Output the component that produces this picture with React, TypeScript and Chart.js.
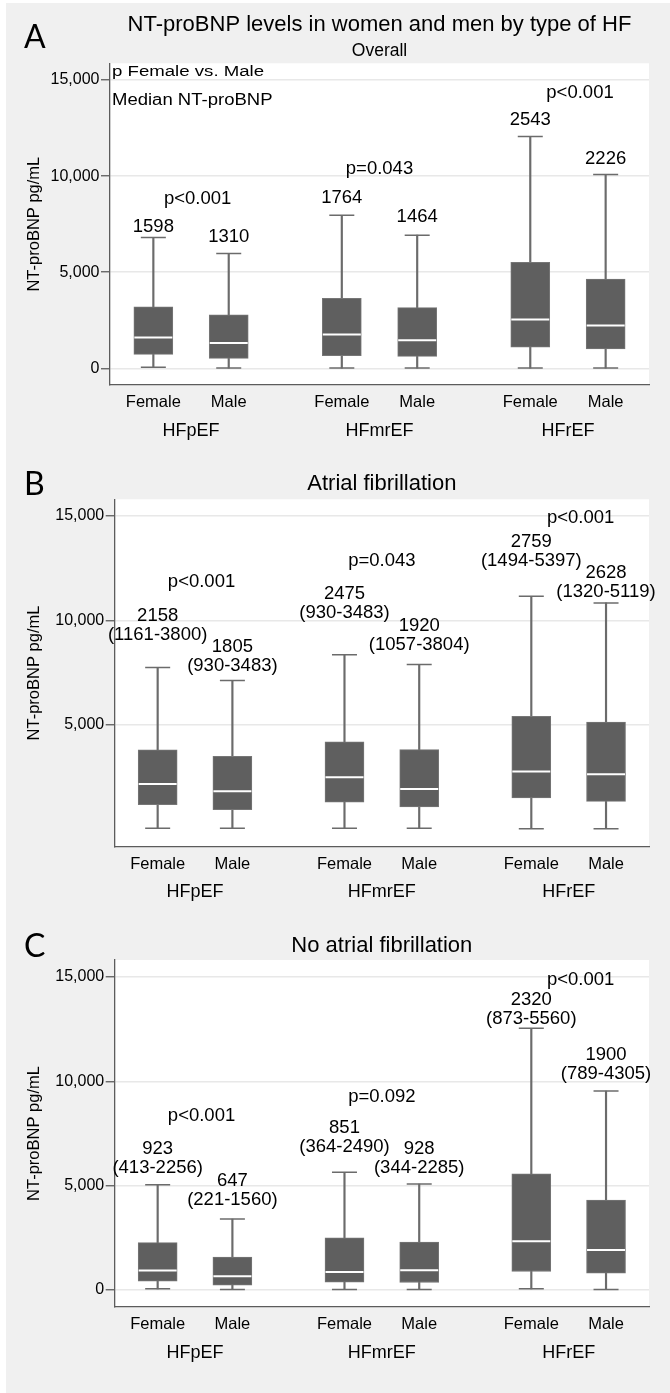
import { useEffect, useRef } from "react";
import { Chart, registerables } from "chart.js";

Chart.register(...registerables);

const FONT = '"Liberation Sans", Arial, Helvetica, sans-serif';

// ---------- categories ----------
const sexes = ["Female", "Male", "Female", "Male", "Female", "Male"];
const hfTypes = ["HFpEF", "HFmrEF", "HFrEF"];
const boxPositions = [0, 1, 2.5, 3.5, 5, 6];
const groupPositions = [0.5, 3, 5.5];

// ---------- Panel A: Overall ----------
const overallMedian = [1598, 1310, 1764, 1464, 2543, 2226];
const overallQ1 = [720, 518, 656, 622, 1105, 1002];
const overallQ3 = [3200, 2781, 3644, 3160, 5509, 4646];
const overallLow = [60, 10, 10, 10, 10, 10];
const overallHigh = [6810, 5975, 7963, 6926, 12055, 10085];
const overallP = ["p<0.001", "p=0.043", "p<0.001"];

// ---------- Panel B: Atrial fibrillation ----------
const afMedian = [2158, 1805, 2475, 1920, 2759, 2628];
const afQ1 = [1161, 930, 1284, 1057, 1494, 1320];
const afQ3 = [3800, 3483, 4183, 3804, 5397, 5119];
const afLow = [40, 40, 40, 40, 15, 15];
const afHigh = [7741, 7116, 8352, 7885, 11155, 10837];
const afIqrText = ["(1161-3800)", "(930-3483)", "(930-3483)", "(1057-3804)", "(1494-5397)", "(1320-5119)"];
const afP = ["p<0.001", "p=0.043", "p<0.001"];

// ---------- Panel C: No atrial fibrillation ----------
const noAfMedian = [923, 647, 851, 928, 2320, 1900];
const noAfQ1 = [413, 221, 364, 344, 873, 789];
const noAfQ3 = [2256, 1560, 2490, 2285, 5560, 4305];
const noAfLow = [40, 10, 10, 10, 40, 10];
const noAfHigh = [5038, 3392, 5633, 5071, 12541, 9534];
const noAfIqrText = ["(413-2256)", "(221-1560)", "(364-2490)", "(344-2285)", "(873-5560)", "(789-4305)"];
const noAfP = ["p<0.001", "p=0.092", "p<0.001"];

// ---------- tick labels ----------
const yTicksWithZero = [0, 5000, 10000, 15000];
const yTicksNoZero = [5000, 10000, 15000];

// ---------- annotation anchors (data units) ----------
const overallMedianLabelY = [7107, 6587, 8585, 7628, 12654, 10630];
const overallPLabelY = [8570, 10110, 14048];
const afMedianLabelY = [9972, 8500, 11026, 9507, 13534, 12018];
const afPLabelY = [11616, 12609, 14646];
const noAfMedianLabelY = [6511, 4975, 7504, 6511, 13660, 11021];
const noAfPLabelY = [8109, 9000, 14620];
const pLabelX = [0.587, 3.0, 5.66];

type PanelSpec = {
  letter: string;
  title: string;
  subtitle?: string;
  median: number[];
  q1: number[];
  q3: number[];
  low: number[];
  high: number[];
  iqrText?: string[];
  medianLabelY: number[];
  pText: string[];
  pY: number[];
  yTicks: number[];
  yMin: number;
  yMax: number;
  notes: boolean;
  canvasTop: number;
  canvasHeight: number;
  areaLeft: number;
  areaTop: number;
  areaRight: number;
  areaBottom: number;
  letterBaseline: number;
  titleBaseline: number;
  subtitleBaseline: number;
};

const panels: PanelSpec[] = [
  {
    letter: "A",
    title: "NT-proBNP levels in women and men by type of HF",
    subtitle: "Overall",
    median: overallMedian,
    q1: overallQ1,
    q3: overallQ3,
    low: overallLow,
    high: overallHigh,
    medianLabelY: overallMedianLabelY,
    pText: overallP,
    pY: overallPLabelY,
    yTicks: yTicksWithZero,
    yMin: -870,
    yMax: 15870,
    notes: true,
    canvasTop: 0,
    canvasHeight: 460,
    areaLeft: 110,
    areaTop: 63.3,
    areaRight: 656.7,
    areaBottom: 385,
    letterBaseline: 48,
    titleBaseline: 30.7,
    subtitleBaseline: 56,
  },
  {
    letter: "B",
    title: "Atrial fibrillation",
    median: afMedian,
    q1: afQ1,
    q3: afQ3,
    low: afLow,
    high: afHigh,
    iqrText: afIqrText,
    medianLabelY: afMedianLabelY,
    pText: afP,
    pY: afPLabelY,
    yTicks: yTicksNoZero,
    yMin: -850,
    yMax: 15805,
    notes: false,
    canvasTop: 460,
    canvasHeight: 462,
    areaLeft: 114.7,
    areaTop: 39.3,
    areaRight: 657,
    areaBottom: 386.7,
    letterBaseline: 34.7,
    titleBaseline: 30,
    subtitleBaseline: 0,
  },
  {
    letter: "C",
    title: "No atrial fibrillation",
    median: noAfMedian,
    q1: noAfQ1,
    q3: noAfQ3,
    low: noAfLow,
    high: noAfHigh,
    iqrText: noAfIqrText,
    medianLabelY: noAfMedianLabelY,
    pText: noAfP,
    pY: noAfPLabelY,
    yTicks: yTicksWithZero,
    yMin: -830,
    yMax: 15820,
    notes: false,
    canvasTop: 922,
    canvasHeight: 471,
    areaLeft: 114.7,
    areaTop: 38,
    areaRight: 657,
    areaBottom: 385,
    letterBaseline: 34.7,
    titleBaseline: 29.7,
    subtitleBaseline: 0,
  },
];

const X_MIN = -0.575;
const X_MAX = 6.575;
const X1_HEIGHT = 30;
const X2_HEIGHT = 40;
const AXIS_COLOR = "#5c5c5c";
const WHISKER_COLOR = "#6b6b6b";
const BOX_COLOR = "#5f5f5f";

function decorPlugin(p: PanelSpec) {
  return {
    id: "decor" + p.letter,
    beforeDraw(chart: any) {
      const { ctx, chartArea: a } = chart;
      ctx.save();
      ctx.fillStyle = "#ffffff";
      ctx.fillRect(a.left, a.top, a.right - a.left, a.bottom - a.top);
      ctx.restore();
    },
    afterDraw(chart: any) {
      const { ctx, chartArea: a, scales } = chart;
      const xs = scales.x;
      const ys = scales.y;
      ctx.save();
      ctx.fillStyle = "#000000";
      ctx.textBaseline = "alphabetic";

      ctx.textAlign = "left";
      ctx.font = `32px Lato, ${FONT}`;
      ctx.fillText(p.letter, 24, p.letterBaseline);

      const cx = (a.left + a.right) / 2;
      ctx.textAlign = "center";
      ctx.font = `22px ${FONT}`;
      ctx.fillText(p.title, cx, p.titleBaseline);
      if (p.subtitle) {
        ctx.font = `17.5px ${FONT}`;
        ctx.fillText(p.subtitle, cx, p.subtitleBaseline);
      }

      if (p.notes) {
        ctx.textAlign = "left";
        ctx.save();
        ctx.translate(a.left + 2, a.top + 12.2);
        ctx.scale(1.33, 1);
        ctx.font = `14px ${FONT}`;
        ctx.fillText("p Female vs. Male", 0, 0);
        ctx.restore();
        ctx.save();
        ctx.translate(a.left + 2, a.top + 42);
        ctx.scale(1.157, 1);
        ctx.font = `16px ${FONT}`;
        ctx.fillText("Median NT-proBNP", 0, 0);
        ctx.restore();
      }

      ctx.textAlign = "center";
      ctx.font = `18.5px ${FONT}`;
      p.median.forEach((m, i) => {
        const x = xs.getPixelForValue(boxPositions[i]);
        const y = ys.getPixelForValue(p.medianLabelY[i]);
        ctx.fillText(String(m), x, y);
        if (p.iqrText) ctx.fillText(p.iqrText[i], x, y + 19);
      });
      p.pText.forEach((t, i) => {
        ctx.fillText(t, xs.getPixelForValue(pLabelX[i]), ys.getPixelForValue(p.pY[i]));
      });
      ctx.restore();
    },
  };
}

function buildConfig(p: PanelSpec): any {
  const whiskers = boxPositions.map((x, i) => ({ x, y: [p.low[i], p.high[i]] }));
  const boxes = boxPositions.map((x, i) => ({ x, y: [p.q1[i], p.q3[i]] }));
  const caps = boxPositions.flatMap((x, i) => [
    { x, y: p.low[i] },
    { x, y: p.high[i] },
  ]);
  const medians = boxPositions.map((x, i) => ({ x, y: p.median[i] }));

  return {
    type: "bar",
    data: {
      datasets: [
        {
          type: "bar",
          data: whiskers,
          backgroundColor: WHISKER_COLOR,
          borderWidth: 0,
          barThickness: 1.5,
          grouped: false,
          order: 4,
        },
        {
          type: "bar",
          data: boxes,
          backgroundColor: BOX_COLOR,
          borderColor: "#767676",
          borderWidth: 1,
          borderSkipped: false,
          barThickness: 39,
          grouped: false,
          order: 3,
        },
        {
          type: "scatter",
          data: caps,
          pointStyle: "line",
          pointRadius: 12.5,
          pointHoverRadius: 12.5,
          pointBorderColor: WHISKER_COLOR,
          pointBorderWidth: 1.5,
          order: 2,
        },
        {
          type: "scatter",
          data: medians,
          pointStyle: "line",
          pointRadius: 19,
          pointHoverRadius: 19,
          pointBorderColor: "#ffffff",
          pointBorderWidth: 2,
          order: 1,
        },
      ],
    },
    options: {
      responsive: false,
      animation: false,
      events: [],
      layout: {
        padding: {
          top: p.areaTop,
          left: 0,
          right: 670 - p.areaRight,
          bottom: p.canvasHeight - p.areaBottom - X1_HEIGHT - X2_HEIGHT,
        },
      },
      plugins: {
        legend: { display: false },
        tooltip: { enabled: false },
        title: { display: false },
      },
      scales: {
        x: {
          type: "linear",
          position: "bottom",
          weight: 1,
          offset: false,
          min: X_MIN,
          max: X_MAX,
          grid: { display: false, drawTicks: false, offset: false },
          border: { display: true, color: AXIS_COLOR, width: 1.3 },
          ticks: {
            autoSkip: false,
            maxRotation: 0,
            padding: 8,
            color: "#000",
            font: { family: FONT, size: 16.5 },
            callback: (_v: any, i: number) => sexes[i],
          },
          afterBuildTicks: (s: any) => {
            s.ticks = boxPositions.map((value) => ({ value }));
          },
          afterFit: (s: any) => {
            s.height = X1_HEIGHT;
          },
        },
        x2: {
          type: "linear",
          position: "bottom",
          weight: 2,
          offset: false,
          min: X_MIN,
          max: X_MAX,
          grid: { display: false, drawTicks: false, offset: false },
          border: { display: false },
          ticks: {
            autoSkip: false,
            maxRotation: 0,
            padding: 5,
            color: "#000",
            font: { family: FONT, size: 18 },
            callback: (_v: any, i: number) => hfTypes[i],
          },
          afterBuildTicks: (s: any) => {
            s.ticks = groupPositions.map((value) => ({ value }));
          },
          afterFit: (s: any) => {
            s.height = X2_HEIGHT;
          },
        },
        y: {
          type: "linear",
          position: "left",
          min: p.yMin,
          max: p.yMax,
          grid: {
            color: "#e8e8e8",
            lineWidth: 1.5,
            tickColor: AXIS_COLOR,
            tickLength: 9,
            tickWidth: 1.3,
          },
          border: { display: true, color: AXIS_COLOR, width: 1.3 },
          ticks: {
            padding: 1.5,
            color: "#000",
            font: { family: FONT, size: 16 },
            callback: (v: any) => Number(v).toLocaleString("en-US"),
          },
          title: {
            display: true,
            text: "NT-proBNP pg/mL",
            color: "#000",
            font: { family: FONT, size: 16.5 },
            padding: { top: 24.1, bottom: 0 },
          },
          afterBuildTicks: (s: any) => {
            s.ticks = p.yTicks.map((value) => ({ value }));
          },
          afterFit: (s: any) => {
            s.width = p.areaLeft;
          },
        },
      },
    },
    plugins: [decorPlugin(p)],
  };
}

export default function App() {
  const canvasRefs = useRef<(HTMLCanvasElement | null)[]>([]);

  useEffect(() => {
    const charts: Chart[] = [];
    panels.forEach((p, i) => {
      const c = canvasRefs.current[i];
      if (c) charts.push(new Chart(c, buildConfig(p)));
    });
    return () => {
      charts.forEach((ch) => ch.destroy());
    };
  }, []);

  return (
    <div
      style={{
        position: "absolute",
        left: 0,
        top: 0,
        width: 670,
        height: 1393,
        background: "#ffffff",
        overflow: "hidden",
      }}
    >
      <div
        style={{
          position: "absolute",
          left: 6,
          top: 3,
          right: 0,
          bottom: 0,
          background: "#f0f0f0",
        }}
      />
      {panels.map((p, i) => (
        <canvas
          key={p.letter}
          ref={(el) => {
            canvasRefs.current[i] = el;
          }}
          width={670}
          height={p.canvasHeight}
          style={{ position: "absolute", left: 0, top: p.canvasTop, width: 670, height: p.canvasHeight, display: "block" }}
        />
      ))}
    </div>
  );
}
